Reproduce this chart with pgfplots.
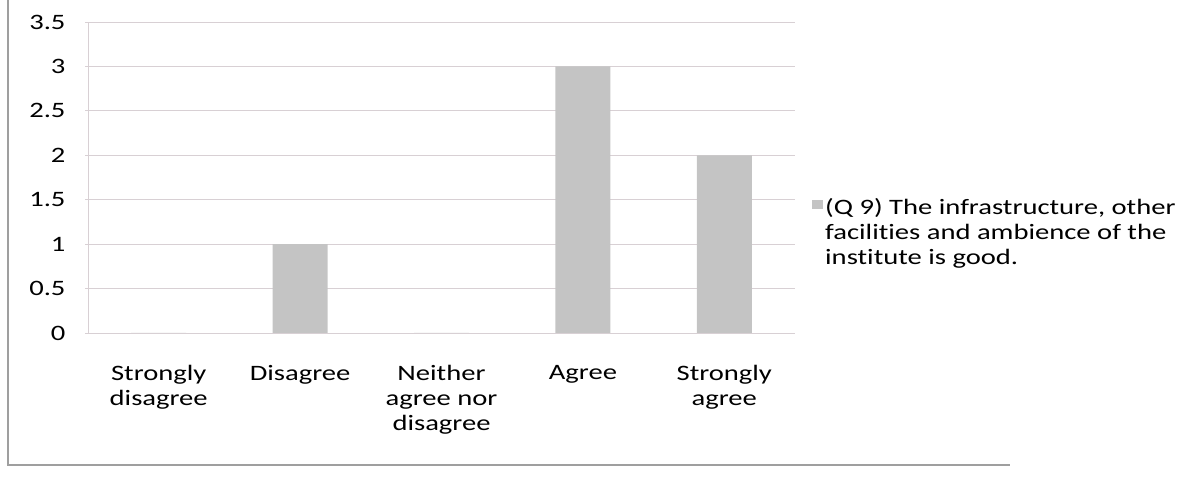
\documentclass[border=0pt]{standalone}
\usepackage{pgfplots}
\pgfplotsset{compat=1.18}
\usepackage{fontspec}
\setmainfont{Carlito}[FakeStretch=1.3, Ligatures={NoCommon}]
\definecolor{barc}{HTML}{C4C4C4}
\definecolor{gridc}{HTML}{D8D0D4}
\begin{document}
\fontsize{22bp}{25bp}\selectfont
\begin{tikzpicture}[x=1bp,y=1bp]
\useasboundingbox (0,0) rectangle (1188,485);
\draw[gray!75, line width=1.3bp] (8,485) -- (8,20) -- (1010,20);
\begin{axis}[
  at={(88bp,152bp)}, anchor=south west,
  scale only axis, width=707bp, height=311bp,
  xmin=-0.5, xmax=4.5, ymin=0, ymax=3.5,
  ytick={0,0.5,1,1.5,2,2.5,3,3.5},
  yticklabels={0,0.5,1,1.5,2,2.5,3,3.5},
  xtick=data,
  xticklabels={Strongly\\disagree, Disagree, Neither\\agree nor\\disagree, Agree, Strongly\\agree},
  xticklabel style={align=center, yshift=-19bp},
  yticklabel style={xshift=-12bp},
  x tick style={draw=none},
  y tick style={gridc, line width=0.8bp},
  major tick length=6bp,
  tick align=outside,
  ymajorgrids, grid style={gridc, line width=0.8bp},
  axis x line=bottom, axis y line=left,
  axis line style={gridc, line width=0.8bp, -},
  ybar, bar width=55bp,
  /pgf/number format/assume math mode=true,
  ticklabel style={font=\fontsize{22bp}{25bp}\selectfont},
  legend style={at={(1,0.445)}, anchor=north west, xshift=14bp, draw=none,
    font=\fontsize{22bp}{25bp}\selectfont, legend cell align=left},
  legend image code/.code={\fill[#1] (0bp,-1bp) rectangle (11bp,8bp);},
]
\addplot[fill=barc, draw=none] coordinates {(0,0) (1,1) (2,0) (3,3) (4,2)};
\addlegendentry{\parbox[t]{370bp}{(Q 9) The infrastructure, other\\facilities and ambience of the\\institute is good.}}
\end{axis}
\end{tikzpicture}
\end{document}
